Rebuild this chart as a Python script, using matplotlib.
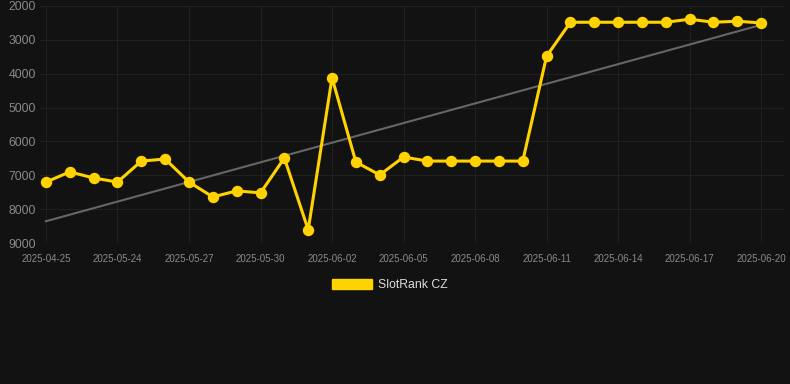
import numpy as np
import matplotlib.pyplot as plt
from matplotlib.patches import Patch

plt.rcParams['font.family'] = ['Liberation Sans', 'DejaVu Sans']

dates = ["2025-04-25", "2025-05-22", "2025-05-23", "2025-05-24", "2025-05-25",
         "2025-05-26", "2025-05-27", "2025-05-28", "2025-05-29", "2025-05-30",
         "2025-05-31", "2025-06-01", "2025-06-02", "2025-06-03", "2025-06-04",
         "2025-06-05", "2025-06-06", "2025-06-07", "2025-06-08", "2025-06-09",
         "2025-06-10", "2025-06-11", "2025-06-12", "2025-06-13", "2025-06-14",
         "2025-06-15", "2025-06-16", "2025-06-17", "2025-06-18", "2025-06-19",
         "2025-06-20"]
rank = [7200, 6900, 7080, 7200, 6580, 6520, 7200, 7640, 7460, 7520,
        6490, 8610, 4120, 6610, 6990, 6460, 6580, 6580, 6580, 6580,
        6580, 3480, 2480, 2480, 2480, 2480, 2480, 2390, 2480, 2450,
        2500]

bg = "#121212"
x = np.arange(len(rank))

fig = plt.figure(figsize=(7.9, 3.84), dpi=100, facecolor=bg)
ax = fig.add_axes([40 / 790, 1 - 243 / 384, 745 / 790, 237 / 384])
ax.set_facecolor(bg)

# trend line (least squares fit of the rank series)
k, b = np.polyfit(x, rank, 1)
ax.plot(x, k * x + b, color="#666666", lw=1.5, zorder=2)

ax.plot(x, rank, color="#FFD200", lw=2.2, marker="o", ms=7.2, zorder=3)

ax.set_xlim(-0.25, 31)
ax.set_ylim(9000, 2000)
ax.set_yticks([2000, 3000, 4000, 5000, 6000, 7000, 8000, 9000])
ax.set_xticks(x[::3])
ax.set_xticklabels(dates[::3])
ax.tick_params(axis="y", colors="#8a8a8a", labelsize=8.8, length=0, pad=3)
ax.tick_params(axis="x", colors="#8a8a8a", labelsize=7, length=0, pad=8)
ax.grid(True, color="#1f1f1f", lw=0.8)
for s in ax.spines.values():
    s.set_visible(False)

leg = fig.legend(handles=[Patch(color="#FFD200", label="SlotRank CZ")],
                 loc="center", bbox_to_anchor=(390 / 790, 1 - 285 / 384),
                 frameon=False, handlelength=3.3, handleheight=0.95,
                 fontsize=8.8, labelcolor="#dddddd", handletextpad=0.5)

fig.savefig("out.png", dpi=100, facecolor=bg)
